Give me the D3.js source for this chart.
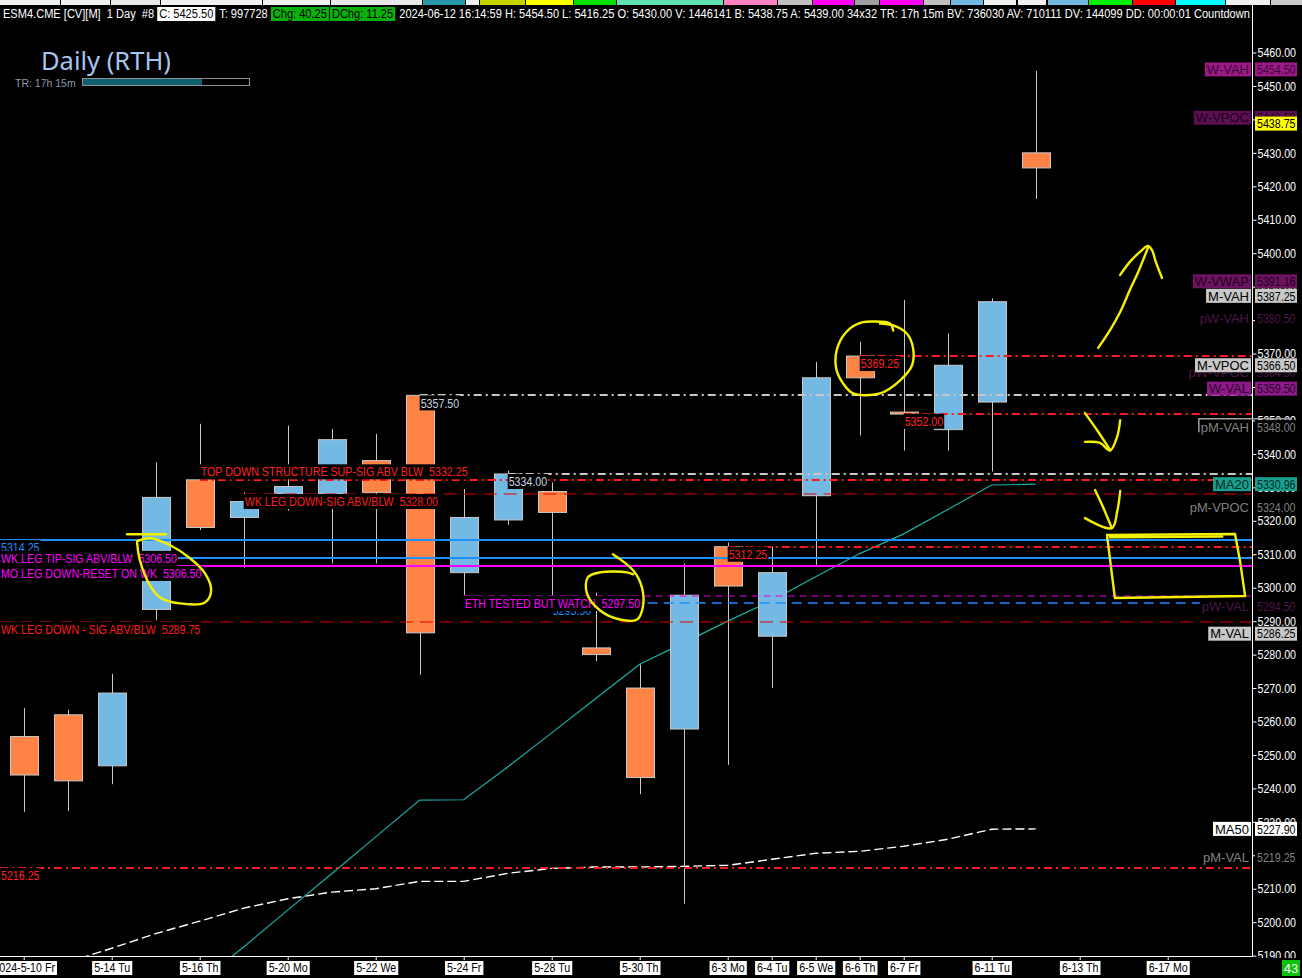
<!DOCTYPE html>
<html><head><meta charset="utf-8">
<script src="https://cdn.jsdelivr.net/npm/d3@7"></script>
<style>
html,body{margin:0;padding:0;background:#000;overflow:hidden}
svg{display:block}
text{font-family:"Liberation Sans",Arial,sans-serif;font-size:13px;white-space:pre}
</style></head><body><svg id="c" width="1302" height="978"></svg>
<script>
// ---------------- DATA ----------------
const dates = ["2024-5-10 Fr","5-13 Mo","5-14 Tu","5-15 We","5-16 Th","5-17 Fr","5-20 Mo","5-21 Tu","5-22 We","5-23 Th","5-24 Fr","5-27 Mo","5-28 Tu","5-29 We","5-30 Th","5-31 Fr","6-3 Mo","6-4 Tu","6-5 We","6-6 Th","6-7 Fr","6-10 Mo","6-11 Tu","6-12 We","6-13 Th","6-14 Fr","6-17 Mo"];
const tickIdx = [0,2,4,6,8,10,12,14,16,17,18,19,20,22,24,26];
const opens  = [5255.5,5262,5246.75,5293.5,5332.25,5321,5328,5328,5338,5357.5,5304.5,5320.25,5328.75,5282,5270,5257.75,5312.25,5285.5,5327.5,5369.25,5352.5,5347.25,5355.5,5430];
const highs  = [5264,5263.5,5274.25,5337.5,5349,5328.5,5348.5,5347.5,5346,5357.5,5329.5,5335,5331.5,5298.5,5277,5307.25,5313.5,5312.25,5367.5,5373.5,5386,5376,5386.5,5454.5];
const lows   = [5233,5233.25,5241.25,5290.25,5317.25,5306,5323,5307.25,5307.25,5274,5297.75,5318.75,5297.75,5278,5238.25,5205.5,5247,5270,5306.75,5345.5,5341,5341,5334.75,5416.25];
const closes = [5244,5242.25,5268.5,5327,5318,5325.75,5330.25,5344.25,5328.5,5286.5,5321,5334,5322.5,5280,5243.25,5297.75,5300.5,5304.5,5362.75,5362.75,5352,5366.5,5385.5,5425.5];
const ma20 = [null,null,null,null,5182,5192.6,5203.6,5214.5,5225.5,5236.5,5236.6,5246.4,5256.6,5266.9,5277.1,5283.5,5290,5296.2,5303.3,5310.2,5316.1,5323.4,5330.7,5330.96];
const ma50 = [null,5188,5192.2,5196.6,5200.3,5204.2,5207,5209,5210,5212.2,5212.2,5214.6,5216.1,5216.5,5216.5,5216.7,5217,5218.8,5220.6,5221.2,5222.7,5224.8,5227.8,5227.9];
const priceTicks = d3.range(5190, 5461, 10);

const levelPrices = [5369.25,5357.50,5352.00,5334.00,5332.25,5328.00,5314.25,5312.25,5308.75,5306.50,5295.50,5297.50,5289.75,5216.25];
const levelStart  = [19,9,20,11,4,5,null,16,null,null,12,10,null,null];
const levelLabels = ["5369.25","5357.50","5352.00","5334.00","TOP DOWN STRUCTURE SUP-SIG ABV BLW  5332.25","WK LEG DOWN-SIG ABV/BLW  5328.00","5314.25","5312.25","WK LEG TIP-SIG ABV/BLW  5306.50","MO LEG DOWN-RESET ON WK  5306.50","5295.50","ETH TESTED BUT WATCH  5297.50","WK LEG DOWN - SIG ABV/BLW  5289.75","5216.25"];
const levelKinds  = ["reddot","greydot","reddot","greydot","reddot","reddash","blue","reddot","blue","magenta","bluedash","magdash","reddash","reddot"];
const levelPlace  = ["below","below","below","below","above","below","below","below","center","below","below","below","below","below"];

const rightLabels = ["W-VAH","W-VPOC","W-VWAP","M-VAH","pW-VAH","pW-VPOC","M-VPOC","W-VAL","pM-VAH","MA20","pM-VPOC","pW-VAL","M-VAL","MA50","pM-VAL"];
const rightValues = [5454.50,5440.50,5391.16,5387.25,5380.50,5364.50,5366.50,5359.50,5348.00,5330.96,5324.00,5294.50,5286.25,5227.90,5219.25];
const lastTagValue = 5438.75;

// yellow hand-drawn annotations in (bar index, price)
const annoLoops = [
  [[2.575,5313.9],[2.64,5308.2],[2.87,5300.7],[3.10,5297.1],[3.55,5295.3],[4.12,5295.6],[4.26,5299.2],[4.12,5304.3],[3.78,5308.8],[3.33,5312.7],[2.87,5314.8],[2.575,5313.9]],
  [[13.39,5310.0],[13.85,5305.2],[14.05,5300.1],[14.07,5294.1],[13.94,5290.5],[13.55,5290.5],[13.10,5293.2],[12.8,5298.3],[12.82,5303.1],[13.10,5304.6],[13.71,5304.6],[13.85,5304.0]],
  [[19.76,5376.9],[19.69,5379],[19.30,5379.6],[19.05,5379.3],[18.78,5377.5],[18.51,5372.4],[18.46,5365.9],[18.62,5361.1],[18.85,5358.1],[19.46,5358.1],[19.92,5362],[20.19,5366.5],[20.21,5371.8],[20.07,5376],[19.76,5378.4],[19.46,5379]]
];
const annoStrokes = [
  [[2.35,5316],[3.23,5316]],
  [[24.42,5371.7],[24.69,5377.0],[24.92,5382.4],[25.14,5389.0],[25.33,5394.4],[25.55,5401.6]],
  [[24.92,5393.5],[25.14,5397.4],[25.37,5400.4],[25.55,5402.2],[25.64,5401.0],[25.73,5397.4],[25.87,5392.6]],
  [[24.12,5352.2],[24.4,5347],[24.69,5341.2]],
  [[24.12,5343.6],[24.46,5343.3],[24.69,5341.0],[24.85,5345.1],[24.92,5350.1]],
  [[24.35,5329.2],[24.53,5324.1],[24.73,5317.8]],
  [[24.12,5320.8],[24.73,5317.8],[24.85,5322.6],[24.92,5328.9]],
  [[24.62,5315.75],[27.53,5316.05],[27.64,5308.3],[27.76,5297.5],[24.80,5296.9],[24.62,5315.75]],
  [[24.69,5315.1],[27.24,5315.3]]
];

const headerParts = [
  {t:"ESM4.CME [CV][M]  1 Day  #8 ", box:null},
  {t:"C: 5425.50", box:"white"},
  {t:" T: 997728 ", box:null},
  {t:"Chg: 40.25", box:"green"},
  {t:"DChg: 11.25", box:"green"},
  {t:" 2024-06-12 16:14:59 H: 5454.50 L: 5416.25 O: 5430.00 V: 1446141 B: 5438.75 A: 5439.00 34x32 TR: 17h 15m BV: 736030 AV: 710111 DV: 144099 DD: 00:00:01 Countdown T", box:null}
];

// ---------------- STYLES ----------------
const PR = 1252, PT = 22, PB = 956, K = 0.82;
const levelStyle = {
  reddot:  {stroke:"#ff1a1a", w:2,   dash:"8,4,2,4", text:"#ff2020"},
  greydot: {stroke:"#c8c8c8", w:2,   dash:"8,4,2,4", text:"#c8d4e0"},
  reddash: {stroke:"#e00000", w:1.2, dash:"13,7",    text:"#ff1a1a"},
  blue:    {stroke:"#1e8fff", w:2,   dash:null,      text:"#ff00ff"},
  magenta: {stroke:"#ff00ff", w:2,   dash:null,      text:"#ff00ff"},
  magdash: {stroke:"#e000e0", w:1.2, dash:"7,5",     text:"#ff00ff"},
  bluedash:{stroke:"#1e8fff", w:1.5, dash:"10,6",    text:"#1e8fff"}
};
const labelTextOverride = {"5314.25":"#1e8fff"};
const rightStyle = {
  "W-VAH":  {bg:"#9c1a86", fg:"#3a0636"},
  "W-VPOC": {bg:"#5c0f52", fg:"#1e0018"},
  "W-VWAP": {bg:"#6c1462", fg:"#1e0018"},
  "M-VAH":  {bg:"#c8c8c8", fg:"#000"},
  "pW-VAH": {bg:"#000",    fg:"#4c1646"},
  "pW-VPOC":{bg:"#000",    fg:"#4c1646"},
  "M-VPOC": {bg:"#c8c8c8", fg:"#000"},
  "W-VAL":  {bg:"#8e1a8a", fg:"#2a0428"},
  "pM-VAH": {bg:"#000",    fg:"#808080", bracket:true},
  "MA20":   {bg:"#1a9e8e", fg:"#002a26"},
  "pM-VPOC":{bg:"#000",    fg:"#808080"},
  "pW-VAL": {bg:"#000",    fg:"#4c1646"},
  "M-VAL":  {bg:"#c8c8c8", fg:"#000"},
  "MA50":   {bg:"#ffffff", fg:"#000"},
  "pM-VAL": {bg:"#000",    fg:"#808080"}
};
const rightNudge = {"W-VAH":-1.5,"W-VWAP":-1.5};

// horizontally condense a text around its x anchor (narrow face look)
function narrow(sel){
  sel.each(function(){
    const x0 = +(this.getAttribute("x")||0);
    this.setAttribute("transform",`translate(${x0*(1-K)},0) scale(${K},1)`);
  });
}

// ---------------- SCALES ----------------
const x = d3.scaleLinear().domain([0, 26]).range([23.7, 23.7 + 44 * 26]);
const y = d3.scaleLinear().domain([5200, 5460]).range([922.2, 52.5]);

const svg = d3.select("#c");
svg.append("rect").attr("width",1302).attr("height",978).attr("fill","#000");

// toolbar strip (decorative)
const stripSegs = [[0,60,"#f0f0f0"],[61,110,"#f0f0f0"],[111,160,"#e8e8e8"],[161,262,"#f0f0f0"],[263,330,"#f0f0f0"],[331,422,"#e8e8e8"],[423,465,"#2a98a8"],[466,479,"#f0f0f0"],[480,525,"#c8d400"],[526,573,"#ffff00"],[574,616,"#00e000"],[617,723,"#60e0b0"],[724,777,"#ff80c0"],[778,812,"#c0c0c0"],[813,854,"#ff00ff"],[855,879,"#a0a0a0"],[880,923,"#ff00ff"],[924,950,"#c0c0c0"],[951,983,"#70b8e0"],[984,1016,"#f0f0f0"],[1018,1046,"#f0f0f0"],[1048,1088,"#70b8e0"],[1089,1132,"#00ee00"],[1133,1175,"#ff0000"],[1176,1225,"#00ffff"],[1226,1270,"#f0f0f0"],[1271,1302,"#c8c8c8"]];
svg.append("g").selectAll("rect").data(stripSegs).join("rect")
  .attr("x",d=>d[0]).attr("y",0).attr("width",d=>d[1]-d[0]).attr("height",5).attr("fill",d=>d[2]);

// header
const hg = svg.append("g");
let hx = 3;
headerParts.forEach(p=>{
  const t = hg.append("text").attr("x",hx+(p.box?2:0)).attr("y",18).text(p.t)
    .attr("fill", p.box ? "#000" : "#fff").style("font-size","13.5px");
  narrow(t);
  const w = t.node().getComputedTextLength()*K;
  if (p.box) {
    hg.insert("rect","text").attr("x",hx).attr("y",7).attr("width",w+4).attr("height",14)
      .attr("fill", p.box==="white" ? "#fff" : "#0cb00c");
    hx += w + 5;
  } else hx += w;
});
svg.append("rect").attr("x",PR+1).attr("y",5).attr("width",60).attr("height",17).attr("fill","#000");

// clip
svg.append("clipPath").attr("id","pc").append("rect").attr("x",0).attr("y",PT).attr("width",PR).attr("height",PB-PT);
const plot = svg.append("g").attr("clip-path","url(#pc)");

// title
svg.append("text").attr("x",41).attr("y",70).text("Daily (RTH)")
  .style("font-family","'Noto Sans','Open Sans',sans-serif").style("font-size","25.5px").attr("fill","#a6c4ee");
svg.append("text").attr("x",15).attr("y",87).text("TR: 17h 15m")
  .style("font-family","'Liberation Sans',sans-serif").style("font-size","10.5px").attr("fill","#8a9aaa");
svg.append("rect").attr("x",82.5).attr("y",78.5).attr("width",167).attr("height",7).attr("fill","#000").attr("stroke","#909090");
svg.append("rect").attr("x",83).attr("y",79).attr("width",119).attr("height",6).attr("fill","#0e6070");

// MA lines
const lineGen = d3.line().defined(d=>d[1]!=null).x(d=>x(d[0])).y(d=>y(d[1]));
plot.append("path").attr("d", lineGen(ma50.map((v,i)=>[i,v]))).attr("fill","none")
  .attr("stroke","#ffffff").attr("stroke-width",1.4).attr("stroke-dasharray","9,4");
plot.append("path").attr("d", lineGen(ma20.map((v,i)=>[i,v]))).attr("fill","none")
  .attr("stroke","#1ab0a4").attr("stroke-width",1.2);

// candles
const cg = plot.append("g");
opens.forEach((o,i)=>{
  const c = closes[i], up = c >= o;
  cg.append("line").attr("x1",Math.round(x(i))+0.5).attr("x2",Math.round(x(i))+0.5)
    .attr("y1",y(highs[i])).attr("y2",y(lows[i])).attr("stroke","#c8c8c8").attr("stroke-width",1);
  const top = y(Math.max(o,c)), bot = y(Math.min(o,c));
  cg.append("rect").attr("x",Math.round(x(i)-14)+0.5).attr("y",top)
    .attr("width",28).attr("height",Math.max(2,bot-top))
    .attr("fill", up ? "#74b8e4" : "#ff8344").attr("stroke","#c8c8c8").attr("stroke-width",1);
});

// level lines
const lg = plot.append("g");
levelPrices.forEach((p,i)=>{
  const st = levelStyle[levelKinds[i]];
  const x0 = levelStart[i]==null ? 0 : x(levelStart[i]);
  const ln = lg.append("line").attr("x1",x0).attr("x2",PR).attr("y1",Math.round(y(p))).attr("y2",Math.round(y(p)))
    .attr("stroke",st.stroke).attr("stroke-width",st.w);
  if (st.dash) ln.attr("stroke-dasharray",st.dash);
});
// level labels
const llg = plot.append("g");
levelPrices.forEach((p,i)=>{
  const st = levelStyle[levelKinds[i]];
  const x0 = levelStart[i]==null ? 0 : x(levelStart[i]);
  const off = levelPlace[i]==="below" ? 7.5 : (levelPlace[i]==="above" ? -8 : 0);
  const cy = y(p) + off;
  const g = llg.append("g");
  const t = g.append("text").attr("x",x0+1).attr("y",cy).attr("dy","0.36em").text(levelLabels[i])
    .attr("fill", labelTextOverride[levelLabels[i]] || st.text);
  narrow(t);
  const w = t.node().getComputedTextLength()*K;
  g.insert("rect","text").attr("x",x0).attr("y",cy-7.5).attr("width",w+2).attr("height",15).attr("fill","#000");
});

// yellow annotations
const ag = plot.append("g").attr("fill","none").attr("stroke","#f5f000").attr("stroke-width",2.4)
  .attr("stroke-linecap","round").attr("stroke-linejoin","round");
const smooth = d3.line().x(d=>x(d[0])).y(d=>y(d[1])).curve(d3.curveCatmullRom.alpha(0.5));
const straight = d3.line().x(d=>x(d[0])).y(d=>y(d[1]));
annoLoops.forEach(pts=>ag.append("path").attr("d",smooth(pts)));
annoStrokes.forEach((pts,i)=>ag.append("path").attr("d",(i>=7?straight:smooth)(pts)));

// x axis
svg.append("line").attr("x1",0).attr("x2",PR).attr("y1",PB+0.5).attr("y2",PB+0.5).attr("stroke","#fff");
const xa = svg.append("g").attr("transform",`translate(0,${PB})`)
  .call(d3.axisBottom(x).tickValues(tickIdx).tickFormat(i=>dates[i]).tickSize(4).tickPadding(3));
xa.select(".domain").remove();
xa.attr("font-family",null).attr("font-size",null);
xa.selectAll(".tick line").attr("stroke","#fff");
xa.selectAll(".tick text").attr("fill","#000")
  .each(function(){
    const w = this.getComputedTextLength()*K;
    d3.select(this.parentNode).insert("rect","text").attr("x",-w/2-2).attr("y",5).attr("width",w+4).attr("height",14).attr("fill","#fff");
  });
narrow(xa.selectAll(".tick text"));

// y axis
svg.append("clipPath").attr("id","yc").append("rect").attr("x",PR).attr("y",PT).attr("width",60).attr("height",PB-PT+2);
const yag = svg.append("g").attr("clip-path","url(#yc)");
const ya = yag.append("g").attr("transform",`translate(${PR+0.5},0)`)
  .call(d3.axisRight(y).tickValues(priceTicks).tickFormat(d3.format(".2f")).tickSize(4).tickPadding(1));
ya.select(".domain").remove();
ya.attr("font-family",null).attr("font-size",null);
ya.selectAll(".tick line").attr("stroke","#fff");
ya.selectAll(".tick text").attr("fill","#fff");
narrow(ya.selectAll(".tick text"));
svg.append("line").attr("x1",PR+0.5).attr("x2",PR+0.5).attr("y1",5).attr("y2",PB+1).attr("stroke","#fff");

// right labels + tags
const rg = svg.append("g");
rightLabels.forEach((name,i)=>{
  const st = rightStyle[name];
  const cy = y(rightValues[i]) + (rightNudge[name]||0);
  const g = rg.append("g");
  const t = g.append("text").attr("x",PR-3).attr("y",cy).attr("dy","0.36em").attr("text-anchor","end")
    .text(name).attr("fill",st.fg).style("font-size","13px");
  const w = t.node().getComputedTextLength();
  g.insert("rect","text").attr("x",PR-5-w).attr("y",cy-7).attr("width",w+4).attr("height",14).attr("fill",st.bg);
  if (st.bracket) {
    g.append("path").attr("d",`M${PR-5-w},${cy+5}V${cy-8.5}H${PR+40}`).attr("fill","none").attr("stroke","#a0a0a0").attr("stroke-width",1.5);
  }
  const tg = g.append("g");
  tg.append("rect").attr("x",PR+3).attr("y",cy-7).attr("width",42).attr("height",14).attr("fill",st.bg);
  const tt = tg.append("text").attr("x",PR+5).attr("y",cy).attr("dy","0.36em").text(d3.format(".2f")(rightValues[i])).attr("fill",st.fg);
  narrow(tt);
});
// last price tag
const ly = y(lastTagValue);
rg.append("rect").attr("x",PR+3).attr("y",ly-7).attr("width",42).attr("height",14).attr("fill","#ffff00");
narrow(rg.append("text").attr("x",PR+5).attr("y",ly).attr("dy","0.36em").text(d3.format(".2f")(lastTagValue)).attr("fill","#000"));

// bottom-right counter
svg.append("rect").attr("x",1282).attr("y",960).attr("width",18).attr("height",16).attr("fill","#0cc00c");
svg.append("text").attr("x",1291).attr("y",968).attr("dy","0.36em").attr("text-anchor","middle").text("43").attr("fill","#fff");
</script></body></html>
